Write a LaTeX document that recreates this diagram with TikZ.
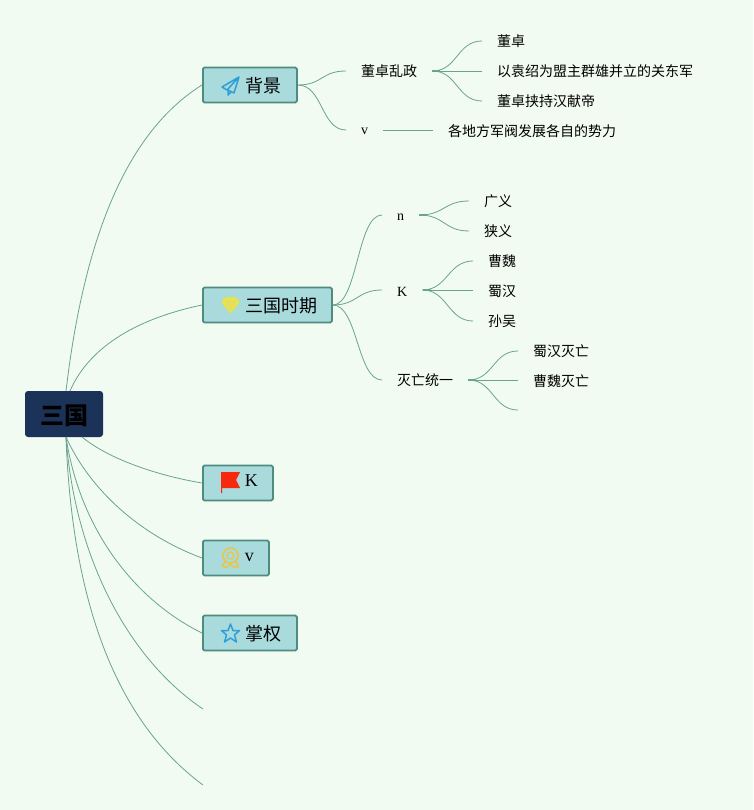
\documentclass[tikz,border=0pt]{standalone}
\usepackage{fontspec}
\setmainfont{Liberation Serif}
\newfontfamily\cjk{Noto Sans CJK SC}
\definecolor{bgc}{HTML}{F1FBF1}
\definecolor{boxfill}{HTML}{A9DADC}
\definecolor{boxline}{HTML}{4F8C80}
\definecolor{rootc}{HTML}{1B3358}
\definecolor{linkc}{HTML}{6AA392}
\definecolor{iconblue}{HTML}{2E9FD9}
\definecolor{icongem}{HTML}{E8E24E}
\definecolor{iconred}{HTML}{F6280E}
\definecolor{icongold}{HTML}{EBC645}
\tikzset{
  x=1pt,y=-1pt,
  box/.style={draw=boxline,fill=boxfill,line width=1.8pt,rounded corners=1.5pt,minimum height=35pt,inner xsep=0pt,inner ysep=0pt,anchor=west,align=left,font=\cjk\fontsize{18pt}{20pt}\selectfont},
  leaf/.style={inner xsep=15pt,inner ysep=0pt,anchor=west,font=\cjk\fontsize{14pt}{16pt}\selectfont},
  latinleaf/.style={inner xsep=15pt,inner ysep=0pt,anchor=west,font=\rmfamily\fontsize{14pt}{16pt}\selectfont},
  link/.style={draw=linkc,line width=0.8pt},
}
\newcommand{\nudge}[2]{\raisebox{#1}[\height][\depth]{#2}}
\newcommand{\bough}[2]{\draw[link] (#1.east) .. controls +(25,0) and +(-25,0) .. (#2.west);}
\newcommand{\stub}[1]{\draw[linkc,line width=1.5pt] (#1.east) -- ++(8,0);}
\begin{document}
\begin{tikzpicture}
\useasboundingbox[fill=bgc] (0,0) rectangle (753,810);

% root
\node[draw=none,fill=rootc,rounded corners=3pt,minimum width=78pt,minimum height=46pt,inner sep=0pt,font=\cjk\bfseries\fontsize{24pt}{26pt}\selectfont,text=black] (root) at (64,414) {\nudge{-2pt}{三国}};

% main topics
\node[box,text width=94pt] (bg) at (202,85) {\hspace*{43pt}\nudge{-1pt}{背景}};
\node[box,text width=129pt] (sg) at (202,305) {\hspace*{43pt}\nudge{-1pt}{三国时期}};
\node[box,text width=70pt] (kk) at (202,483) {\hspace*{42pt}\nudge{2pt}{\rmfamily K}};
\node[box,text width=66pt] (vv) at (202,558) {\hspace*{42pt}\nudge{1pt}{\rmfamily v}};
\node[box,text width=94pt] (zq) at (202,633) {\hspace*{43pt}\nudge{-1pt}{掌权}};
\coordinate (e1) at (203,709);
\coordinate (e2) at (203,785);

% root links
\coordinate (rt) at (66,391);
\coordinate (rb) at (66,437);
\draw[link] (rt) .. controls (85,230) and (130,130) .. (bg.west);
\draw[link] (70,391) .. controls (90,345) and (140,318) .. (sg.west);
\draw[link] (82,437) .. controls (110,460) and (160,476) .. (kk.west);
\draw[link] (rb) .. controls (90,490) and (140,535) .. (vv.west);
\draw[link] (rb) .. controls (80,530) and (135,600) .. (zq.west);
\draw[link] (rb) .. controls (75,560) and (130,660) .. (e1);
\draw[link] (rb) .. controls (72,600) and (115,720) .. (e2);

% second level
\node[leaf] (a1) at (346,71) {董卓乱政};
\node[latinleaf] (a2) at (346,130) {\nudge{-1.5pt}{v}};
\node[leaf] (a11) at (482,41) {董卓};
\node[leaf] (a12) at (482,71) {以袁绍为盟主群雄并立的关东军};
\node[leaf] (a13) at (482,101) {董卓挟持汉献帝};
\node[leaf] (a21) at (433,131) {各地方军阀发展各自的势力};

\node[latinleaf] (b1) at (382,215) {\nudge{-2pt}{n}};
\node[latinleaf] (b2) at (382,290) {\nudge{-1.5pt}{K}};
\node[leaf] (b3) at (382,380) {灭亡统一};
\node[leaf] (b11) at (469,201) {广义};
\node[leaf] (b12) at (469,231) {狭义};
\node[leaf] (b21) at (473,261) {曹魏};
\node[leaf] (b22) at (473,291) {蜀汉};
\node[leaf] (b23) at (473,321) {孙吴};
\node[leaf] (b31) at (518,351) {蜀汉灭亡};
\node[leaf] (b32) at (518,381) {曹魏灭亡};
\coordinate (b33) at (518,410);

\bough{bg}{a1}
\bough{bg}{a2}
\bough{a1}{a11}
\draw[link] (a1.east) -- (a12.west);
\bough{a1}{a13}
\draw[link] (a2.east) -- (a21.west |- a2.east);
\bough{sg}{b1}
\bough{sg}{b2}
\bough{sg}{b3}
\bough{b1}{b11}
\bough{b1}{b12}
\bough{b2}{b21}
\draw[link] (b2.east) -- (b22.west |- b2.east);
\bough{b2}{b23}
\bough{b3}{b31}
\draw[link] (b3.east) -- (b32.west |- b3.east);
\draw[link] (b3.east) .. controls +(25,0) and +(-25,0) .. (b33);
\stub{a1}\stub{b1}\stub{b2}\stub{b3}

% icons
% paper plane
\draw[iconblue,line width=1.5pt,line join=round] (239,77) -- (222,87) -- (227,90) -- (239,77) -- (234,93) -- (228,90) -- (228,95) -- (231,92);
% gem
\fill[icongem,rounded corners=2pt] (225,297) -- (236,297) -- (240,302) -- (230.5,314) -- (221,302) -- cycle;
\draw[boxfill!40!icongem,line width=0.6pt] (226,302) -- (235,302) (228,302) -- (230.5,311) -- (233,302);
% flag
\fill[iconred] (221,472) -- (240,472) -- (236,480) -- (240,488) -- (222,488) -- (222,493) -- (221,493) -- cycle;
% medal
\draw[icongold,line width=1.6pt] (230.5,555.5) circle (7.5);
\draw[icongold,line width=1.2pt] (230.5,555.5) circle (3.5);
\draw[icongold,line width=1.5pt,line join=round] (225.5,561) -- (222.5,566) -- (226,567.5) -- (229,566) -- (230.5,563) -- (232,566) -- (235,567.5) -- (238.5,566) -- (235.5,561);
% star
\draw[iconblue,line width=1.5pt,line join=round]
  (230.5,624) -- (233,630.5) -- (239.5,630.5) -- (234.5,635) -- (236.5,642) -- (230.5,638) -- (224.5,642) -- (226.5,635) -- (221.5,630.5) -- (228,630.5) -- cycle;
\end{tikzpicture}
\end{document}
